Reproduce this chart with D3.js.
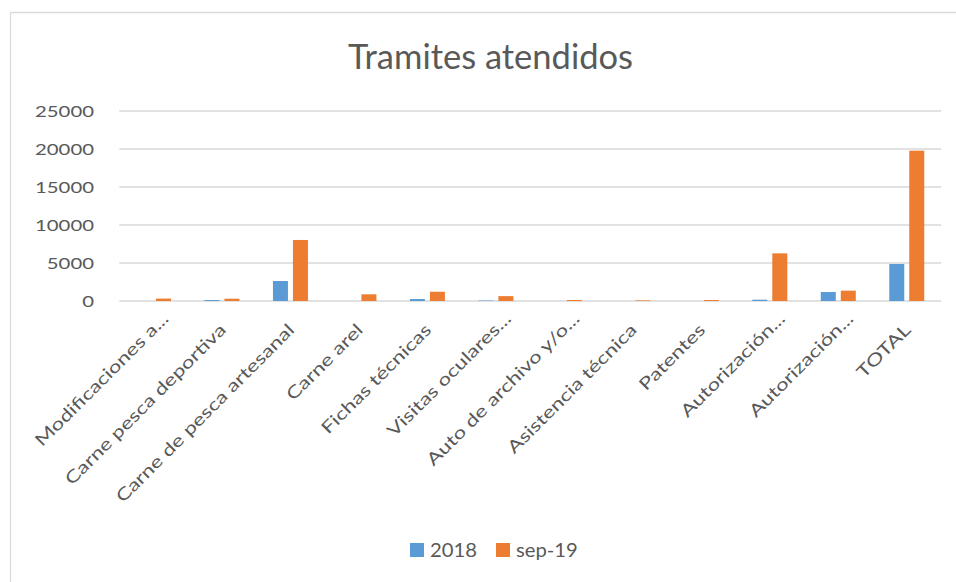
<!DOCTYPE html>
<html>
<head>
<meta charset="utf-8">
<script src="https://cdn.jsdelivr.net/npm/d3@7"></script>
<style>
  html, body { margin: 0; padding: 0; background: #fff; }
  svg { display: block; }
  text { font-family: Lato, "Open Sans", sans-serif; fill: #595959; }
</style>
</head>
<body>
<svg id="chart" width="956" height="582"></svg>
<script>
// Trámites atendidos: 2018 vs sep-19
const categories = [
  "Modificaciones a...",
  "Carne pesca deportiva",
  "Carne de pesca artesanal",
  "Carne arel",
  "Fichas técnicas",
  "Visitas oculares...",
  "Auto de archivo y/o...",
  "Asistencia técnica",
  "Patentes",
  "Autorización...",
  "Autorización...",
  "TOTAL"
];
const seriesNames = ["2018", "sep-19"];
const values2018 = [0, 130, 2630, 0, 260, 60, 0, 0, 0, 170, 1180, 4870];
const valuesSep19 = [320, 300, 8030, 880, 1220, 640, 130, 80, 130, 6270, 1360, 19780];
const yTicks = [0, 5000, 10000, 15000, 20000, 25000];
const colors = ["#5B9BD5", "#ED7D31"];

const svg = d3.select("#chart");

// chart frame
svg.append("line").attr("x1", 10.5).attr("x2", 10.5).attr("y1", 12.5).attr("y2", 582)
  .attr("stroke", "#d9d9d9").attr("stroke-width", 1.3);
svg.append("line").attr("x1", 10.5).attr("x2", 956).attr("y1", 12.5).attr("y2", 12.5)
  .attr("stroke", "#d9d9d9").attr("stroke-width", 1.3);

// scales
const x0 = d3.scaleBand().domain(d3.range(categories.length)).range([119.25, 941]);
const x1 = d3.scaleBand().domain(seriesNames).range([-17.5, 17.5]).paddingInner(0.25);
const y = d3.scaleLinear().domain([0, 25000]).range([301, 111]);

// helper: stretch text horizontally by factor k
function stretch(sel, k) {
  sel.each(function () {
    const len = this.getComputedTextLength();
    d3.select(this).attr("textLength", len * k).attr("lengthAdjust", "spacingAndGlyphs");
  });
}

// title
const title = svg.append("text").attr("x", 490.5).attr("y", 69.3)
  .attr("text-anchor", "middle").attr("font-size", 34).text("Tramites atendidos");
stretch(title, 285 / title.node().getComputedTextLength());

// gridlines + y axis labels
const yAxis = d3.axisLeft(y).tickValues(yTicks).tickSize(0).tickPadding(0).tickFormat(d3.format("d"));
const yG = svg.append("g").attr("transform", "translate(94,0)").call(yAxis);
yG.select(".domain").remove();
yG.selectAll("text").attr("font-size", 16).attr("fill", "#595959")
  .attr("font-family", "Lato, 'Open Sans', sans-serif").attr("dy", "0.37em").attr("x", 0);
const refTick = yG.selectAll("text").filter(d => d === 25000).node().getComputedTextLength();
stretch(yG.selectAll("text"), 59 / refTick);

svg.append("g").selectAll("line").data(yTicks).join("line")
  .attr("x1", x0.range()[0]).attr("x2", x0.range()[1])
  .attr("y1", d => y(d)).attr("y2", d => y(d))
  .attr("stroke", "#d9d9d9").attr("stroke-width", 1.3);

// bars
const data = [values2018, valuesSep19];
const groups = svg.append("g").selectAll("g").data(categories.map((c, i) => i)).join("g")
  .attr("transform", i => `translate(${x0(i) + x0.bandwidth() / 2},0)`);
groups.selectAll("rect")
  .data(i => seriesNames.map((s, j) => ({ s, j, v: data[j][i] })))
  .join("rect")
  .attr("x", d => x1(d.s))
  .attr("width", x1.bandwidth())
  .attr("y", d => y(d.v))
  .attr("height", d => y(0) - y(d.v))
  .attr("fill", d => colors[d.j]);

// category labels, rotated -45°
const labels = svg.append("g").selectAll("text").data(categories.map((c, i) => i)).join("text")
  .attr("text-anchor", "end")
  .attr("font-size", 17)
  .attr("transform", i => `translate(${x0(i) + x0.bandwidth() / 2 + 5},331) rotate(-45)`)
  .attr("dx", i => categories[i].endsWith("...") ? 16 : 0)
  .text(i => categories[i]);
const refLabel = labels.filter(i => i === 2).node().getComputedTextLength();
stretch(labels, 244 / refLabel);

// legend
const legend = svg.append("g");
const legendItems = [
  { name: seriesNames[0], color: colors[0], sx: 410, tx: 430 },
  { name: seriesNames[1], color: colors[1], sx: 496, tx: 516 }
];
legend.selectAll("rect").data(legendItems).join("rect")
  .attr("x", d => d.sx).attr("y", 543).attr("width", 14).attr("height", 14)
  .attr("fill", d => d.color);
const legTexts = legend.selectAll("text").data(legendItems).join("text")
  .attr("x", d => d.tx).attr("y", 557).attr("font-size", 19).text(d => d.name);
const refLeg = legTexts.filter(d => d.name === "2018").node().getComputedTextLength();
stretch(legTexts, 47 / refLeg);
</script>
</body>
</html>
